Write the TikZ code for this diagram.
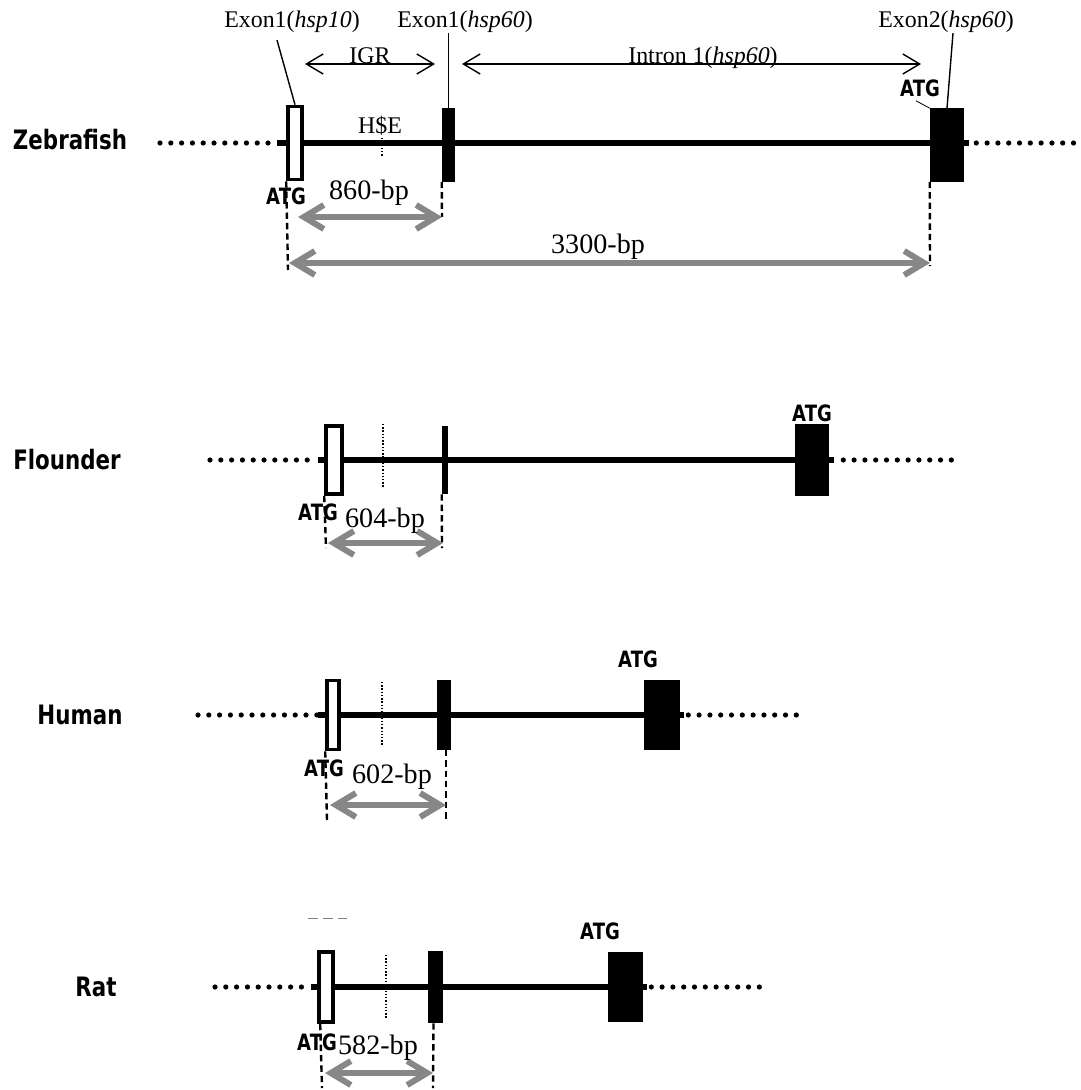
\documentclass[tikz,border=0pt]{standalone}
\usepackage{fontspec}
\setmainfont{Liberation Serif}
\newfontfamily\pixfont[FakeStretch=0.8]{DejaVu Sans}
\usepackage{tikz}
\usetikzlibrary{arrows.meta}
\definecolor{spangray}{RGB}{135,135,135}
\tikzset{
  backbone/.style={line width=0.16cm, color=black},
  flank/.style={line width=0.13cm, line cap=round, dash pattern=on 0pt off 0.27cm},
  hsetick/.style={line width=0.9pt, dash pattern=on 1pt off 1.3pt},
  guide/.style={line width=0.06cm, dash pattern=on 0.16cm off 0.1cm},
  leader/.style={line width=0.035cm},
  span/.style={{Straight Barb[length=0.5cm,width=0.6cm]}-{Straight Barb[length=0.5cm,width=0.6cm]},
    line width=0.15cm, color=spangray},
  region/.style={{Straight Barb[length=0.42cm,width=0.5cm]}-{Straight Barb[length=0.42cm,width=0.5cm]},
    line width=0.035cm},
  openexon/.style={rectangle, draw, fill=white, line width=0.09cm, inner sep=0pt},
  exon/.style={rectangle, fill=black, inner sep=0pt},
  species/.style={font=\pixfont\bfseries\fontsize{19}{19}\selectfont, inner sep=0pt},
  atg/.style={font=\pixfont\bfseries\fontsize{16}{16}\selectfont, inner sep=0pt},
  lbl/.style={font=\fontsize{17}{17}\selectfont, inner sep=0pt},
  bp/.style={font=\fontsize{20}{20}\selectfont, inner sep=0pt}
}

\begin{document}
\begin{tikzpicture}[x=0.025cm, y=-0.025cm]
  \useasboundingbox (0,0) rectangle (1080,1090);

  % Zebrafish
  \node[species] (zfname) at (70,140) {Zebrafish};
  \node[openexon, minimum width=0.35cm, minimum height=1.825cm] (zf10) at (295,143) {};
  \node[exon, minimum width=0.325cm, minimum height=1.825cm] (zf60) at (448.5,145) {};
  \node[exon, minimum width=0.85cm, minimum height=1.825cm] (zf2) at (947,145) {};
  \coordinate (zfl) at (160,143);
  \coordinate (zfs) at (277,143);
  \coordinate (zfr) at (1075,143);
  \draw[flank] (zfl) -- (zfs);
  \draw[backbone] (zfs) -- (zf10.west) (zf10.east) -- (zf60.west |- zfs) (zf60.east |- zfs) -- (zf2.west |- zfs);
  \draw[backbone] (zf2.east |- zfs) -- ++(0.12cm,0);
  \draw[flank] ([xshift=0.3cm]zf2.east |- zfs) -- (zfr);

  \node[lbl] (zfhse) at (380,126) {H\$E};
  \coordinate (zfh1) at (382,138);
  \coordinate (zfh2) at (382,157);
  \draw[hsetick] (zfh1) -- (zfh2);

  \node[lbl] (l10) at (292,22) {Exon1(\textit{hsp10})};
  \node[lbl] (l60) at (465,22) {Exon1(\textit{hsp60})};
  \node[lbl] (l2) at (946,22) {Exon2(\textit{hsp60})};
  \draw[leader] (l10.south) ++(-15,7) -- (zf10.north);
  \draw[leader] (zf60.north) -- (zf60.north |- l60.south);
  \draw[leader] (l2.south) ++(7,0) -- (zf2.north);

  \coordinate (igrL) at (305,64);
  \coordinate (igrR) at (435,64);
  \coordinate (intL) at (462,64);
  \coordinate (intR) at (921,64);
  \node[lbl, anchor=base] (igr) at (370,64) {IGR};
  \node[lbl, anchor=base] (intron) at (703,64) {Intron 1(\textit{hsp60})};
  \draw[region] (igrL) -- (igrR);
  \draw[region] (intL) -- (intR);

  \node[atg] (zfatg2) at (920,88) {ATG};
  \draw[leader, line width=0.02cm] (zfatg2.south) ++(-4,4) -- (zf2.north west);
  \node[atg] (zfatg1) at (286,196) {ATG};

  \coordinate (zfg1) at (288,270);
  \coordinate (zfg2) at (442,217);
  \coordinate (zfg3) at (930,266);
  \coordinate (zfa1) at (298,217);
  \coordinate (zfa2) at (289,263);
  \coordinate (zfa3) at (930,263);
  \draw[guide] (zf10.south west) -- (zfg1);
  \draw[guide] (zf60.south west) -- (zfg2);
  \draw[guide] (zf2.south west) -- (zfg3);
  \draw[span] (zfa1) -- (zfg2);
  \draw[span] (zfa2) -- (zfa3);
  \node[bp] (zfbp1) at (369,193) {860-bp};
  \node[bp] (zfbp2) at (598,247) {3300-bp};

  % Flounder
  \node[species] (flname) at (67,460) {Flounder};
  \node[openexon, minimum width=0.4cm, minimum height=1.7cm] (fl10) at (334,460) {};
  \node[exon, minimum width=0.15cm, minimum height=1.7cm] (fl60) at (445,460) {};
  \node[exon, minimum width=0.85cm, minimum height=1.8cm] (fl2) at (812,460) {};
  \coordinate (fll) at (210,460);
  \coordinate (fls) at (318,460);
  \coordinate (flr) at (958,460);
  \draw[flank] (fll) -- (fls);
  \draw[backbone] (fls) -- (fl10.west) (fl10.east) -- (fl60.west) (fl60.east) -- (fl2.west);
  \draw[backbone] (fl2.east) -- ++(0.12cm,0);
  \draw[flank] ([xshift=0.35cm]fl2.east) -- (flr);
  \coordinate (flh1) at (383,424);
  \coordinate (flh2) at (383,487);
  \draw[hsetick] (flh1) -- (flh2);
  \node[atg] (flatg2) at (812,413) {ATG};
  \node[atg] (flatg1) at (318,512) {ATG};
  \coordinate (flg1) at (326,548);
  \coordinate (flg2) at (442,548);
  \coordinate (fla1) at (328,543);
  \coordinate (fla2) at (443,543);
  \draw[guide] (fl10.south west) -- (flg1);
  \draw[guide] (fl60.south west) -- (flg2);
  \draw[span] (fla1) -- (fla2);
  \node[bp] (flbp) at (385,521) {604-bp};

  % Human
  \node[species] (huname) at (80,715) {Human};
  \node[openexon, minimum width=0.3cm, minimum height=1.725cm] (hu10) at (333,715) {};
  \node[exon, minimum width=0.35cm, minimum height=1.725cm] (hu60) at (444,715) {};
  \node[exon, minimum width=0.9cm, minimum height=1.75cm] (hu2) at (662,715) {};
  \coordinate (hul) at (198,715);
  \coordinate (hus) at (318,715);
  \coordinate (hur) at (807,715);
  \draw[flank] (hul) -- (hus);
  \draw[backbone] (hus) -- (hu10.west) (hu10.east) -- (hu60.west) (hu60.east) -- (hu2.west);
  \draw[backbone] (hu2.east) -- ++(0.1cm,0);
  \draw[flank] ([xshift=0.2cm]hu2.east) -- (hur);
  \coordinate (huh1) at (382,682);
  \coordinate (huh2) at (382,745);
  \draw[hsetick] (huh1) -- (huh2);
  \node[atg] (huatg2) at (638,659) {ATG};
  \node[atg] (huatg1) at (324,768) {ATG};
  \coordinate (hug1) at (327,820);
  \coordinate (hug2) at (446,820);
  \coordinate (hua1) at (330,805);
  \coordinate (hua2) at (446,805);
  \draw[guide] (hu10.south west) -- (hug1);
  \draw[guide] (hu60.south) ++(2,0) -- (hug2);
  \draw[span] (hua1) -- (hua2);
  \node[bp] (hubp) at (392,777) {602-bp};

  % Rat
  \node[species] (rtname) at (96,987) {Rat};
  \node[openexon, minimum width=0.35cm, minimum height=1.75cm] (rt10) at (326,987) {};
  \node[exon, minimum width=0.375cm, minimum height=1.8cm] (rt60) at (435.5,987) {};
  \node[exon, minimum width=0.875cm, minimum height=1.75cm] (rt2) at (625.5,987) {};
  \coordinate (rtl) at (215,987);
  \coordinate (rts) at (311,987);
  \coordinate (rtr) at (765,987);
  \draw[flank] (rtl) -- (rts);
  \draw[backbone] (rts) -- (rt10.west) (rt10.east) -- (rt60.west) (rt60.east) -- (rt2.west);
  \draw[backbone] (rt2.east) -- ++(0.1cm,0);
  \draw[flank] ([xshift=0.2cm]rt2.east) -- (rtr);
  \coordinate (rth1) at (386,955);
  \coordinate (rth2) at (386,1018);
  \draw[hsetick] (rth1) -- (rth2);
  \coordinate (rtm1) at (308,918);
  \coordinate (rtm2) at (347,918);
  \draw[line width=0.6pt, gray, dash pattern=on 0.25cm off 0.12cm] (rtm1) -- (rtm2);
  \node[atg] (rtatg2) at (600,931) {ATG};
  \node[atg] (rtatg1) at (317,1042) {ATG};
  \coordinate (rtg1) at (322,1088);
  \coordinate (rtg2) at (433,1088);
  \coordinate (rta1) at (325,1073);
  \coordinate (rta2) at (433,1073);
  \draw[guide] (rt10.south west) ++(3,0) -- (rtg1);
  \draw[guide] (rt60.south) ++(-2,0) -- (rtg2);
  \draw[span] (rta1) -- (rta2);
  \node[bp] (rtbp) at (378,1048) {582-bp};
\end{tikzpicture}
\end{document}
